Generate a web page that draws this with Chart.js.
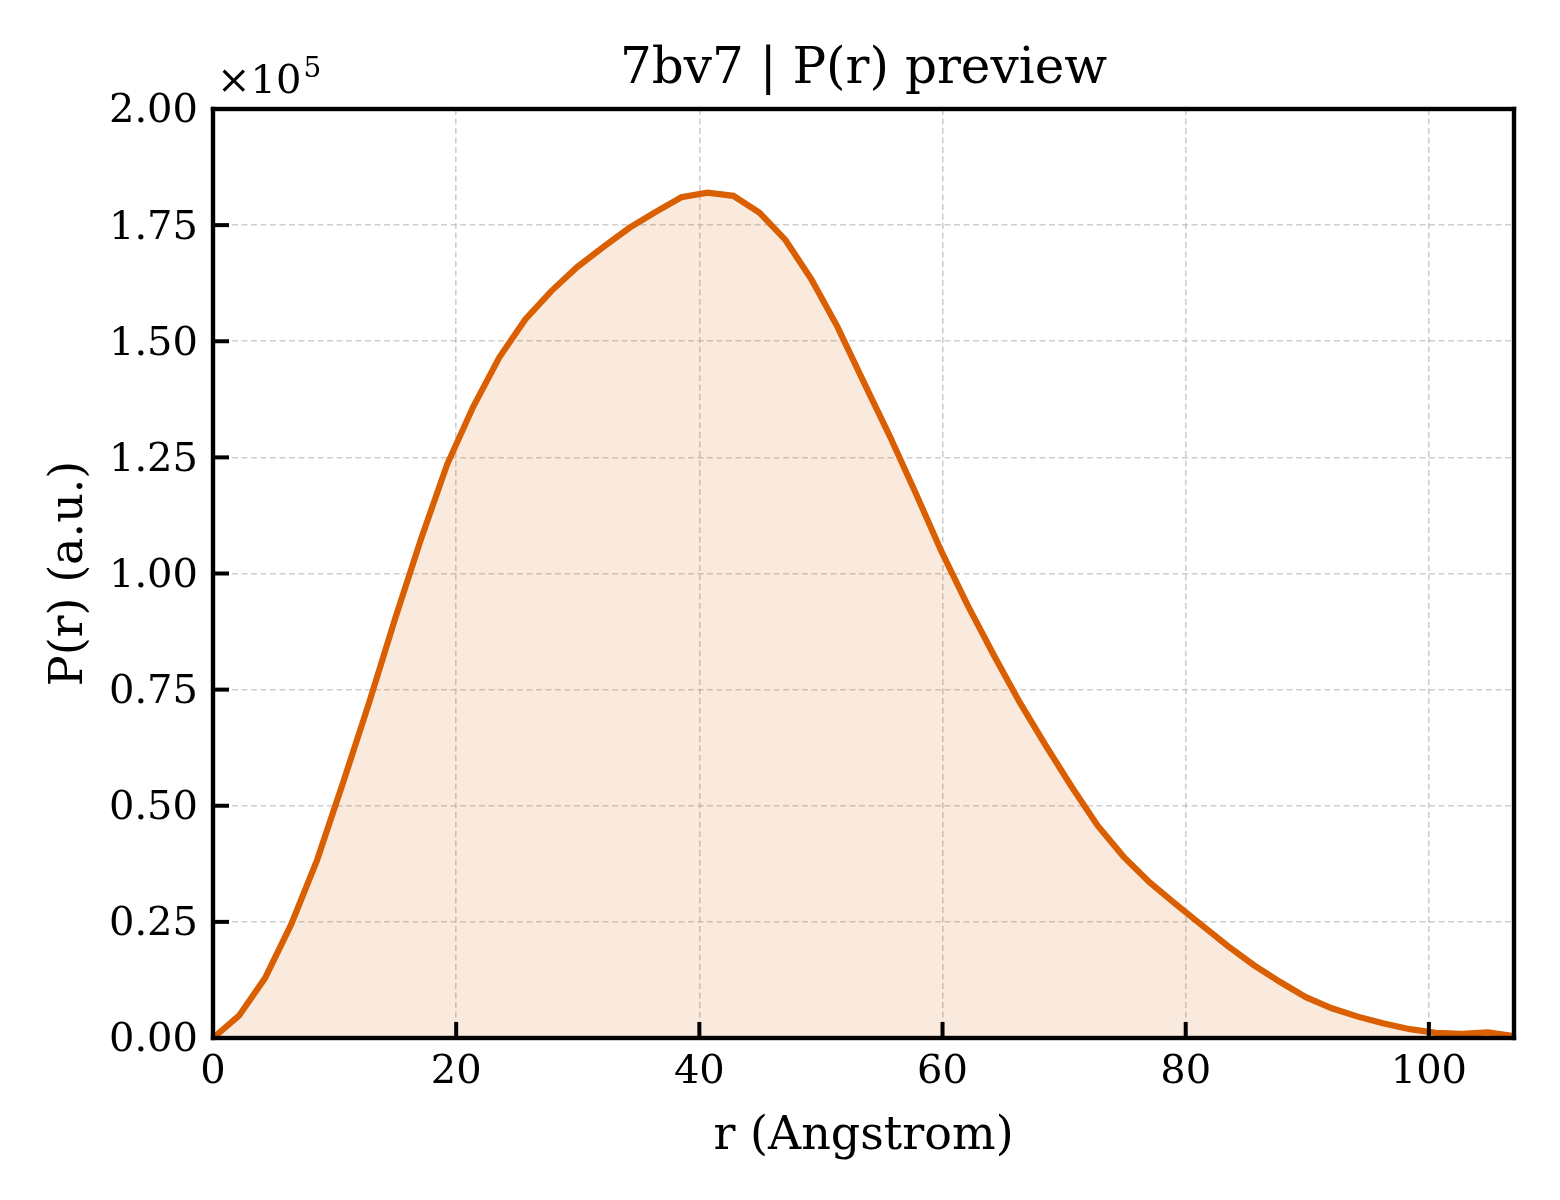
<!DOCTYPE html>
<html>
<head>
<meta charset="utf-8">
<script src="https://cdn.jsdelivr.net/npm/chart.js@4.4.1/dist/chart.umd.min.js"></script>
<style>
  html, body { margin: 0; padding: 0; background: #ffffff; }
  #wrap { width: 1560px; height: 1200px; }
</style>
</head>
<body>
<div id="wrap"><canvas id="c" width="1560" height="1200"></canvas></div>
<script>
// ---- data (r in Angstrom, P(r) in a.u.) ----
const rValues = [0, 2.14, 4.28, 6.42, 8.56, 10.70, 12.84, 14.98, 17.12, 19.26,
  21.40, 23.54, 25.68, 27.82, 29.96, 32.10, 34.24, 36.38, 38.52, 40.66,
  42.80, 44.94, 47.08, 49.22, 51.36, 53.50, 55.64, 57.78, 59.92, 62.06,
  64.20, 66.34, 68.48, 70.62, 72.76, 74.90, 77.04, 79.18, 81.32, 83.46,
  85.60, 87.74, 89.88, 92.02, 94.16, 96.30, 98.44, 100.58, 102.72, 104.86, 107.00];
const prValues = [0, 4800, 12900, 24400, 38300, 55000, 72200, 90300, 107500, 123500,
  135900, 146500, 154700, 160800, 166000, 170300, 174400, 177800, 181000, 182000,
  181300, 177700, 171800, 163300, 153100, 141300, 129700, 117400, 104700, 93200,
  82500, 72300, 63000, 54100, 45700, 39000, 33500, 28800, 24300, 19800,
  15700, 12100, 8800, 6400, 4600, 3100, 1900, 1100, 900, 1200, 400];
const xTicks = [0, 20, 40, 60, 80, 100];
const yTicks = [0, 25000, 50000, 75000, 100000, 125000, 150000, 175000, 200000];
const xMin = 0, xMax = 107, yMin = 0, yMax = 200000;

const FONT = 'DejaVu Serif';
const points = rValues.map((r, i) => ({ x: r, y: prValues[i] }));

const decorPlugin = {
  id: 'decor',
  afterDraw(chart) {
    const { ctx, chartArea: ca, scales } = chart;
    ctx.save();
    ctx.setLineDash([]);
    ctx.fillStyle = '#000';
    const tw = 4, tl = 16, fw = 4.4;
    // inward ticks
    xTicks.forEach(v => {
      const px = scales.x.getPixelForValue(v);
      ctx.fillRect(px - tw / 2, ca.bottom - tl, tw, tl);
    });
    yTicks.forEach(v => {
      const py = scales.y.getPixelForValue(v);
      ctx.fillRect(ca.left, py - tw / 2, tl, tw);
    });
    // frame
    ctx.fillRect(ca.left - fw / 2, ca.top - fw / 2, ca.right - ca.left + fw, fw);
    ctx.fillRect(ca.left - fw / 2, ca.bottom - fw / 2, ca.right - ca.left + fw, fw);
    ctx.fillRect(ca.left - fw / 2, ca.top - fw / 2, fw, ca.bottom - ca.top + fw);
    ctx.fillRect(ca.right - fw / 2, ca.top - fw / 2, fw, ca.bottom - ca.top + fw);
    // title
    ctx.font = '50px "' + FONT + '"';
    ctx.textAlign = 'center';
    ctx.textBaseline = 'alphabetic';
    ctx.fillText('7bv7 | P(r) preview', (ca.left + ca.right) / 2, 83);
    // offset text x10^5
    ctx.textAlign = 'left';
    ctx.font = '40px "' + FONT + '"';
    const base = '\u00d710';
    ctx.fillText(base, ca.left + 4, 93);
    const w = ctx.measureText(base).width;
    ctx.font = '28px "' + FONT + '"';
    ctx.fillText('5', ca.left + 4 + w + 2, 77);
    ctx.restore();
  }
};

new Chart(document.getElementById('c'), {
  type: 'line',
  data: {
    datasets: [{
      data: points,
      borderColor: '#d95f02',
      borderWidth: 6.2,
      backgroundColor: 'rgba(217,95,2,0.13)',
      fill: 'origin',
      pointRadius: 0,
      tension: 0
    }]
  },
  options: {
    responsive: false,
    animation: false,
    devicePixelRatio: 1,
    layout: { padding: { left: 0, right: 46, top: 109, bottom: 0 } },
    plugins: { legend: { display: false }, title: { display: false }, tooltip: { enabled: false } },
    scales: {
      x: {
        type: 'linear', min: xMin, max: xMax,
        afterBuildTicks: s => { s.ticks = xTicks.map(v => ({ value: v })); },
        afterFit: s => { s.height = 162; },
        grid: { color: 'rgba(180,180,180,0.65)', lineWidth: 1.6, drawTicks: false },
        border: { display: false, dash: [6, 3.5] },
        ticks: { font: { family: FONT, size: 40 }, color: '#000', padding: 11, maxRotation: 0, autoSkip: false,
                 callback: v => String(v) },
        title: { display: true, text: 'r (Angstrom)', color: '#000', font: { family: FONT, size: 46 },
                 padding: { top: 0, bottom: 35 } }
      },
      y: {
        type: 'linear', min: yMin, max: yMax,
        afterBuildTicks: s => { s.ticks = yTicks.map(v => ({ value: v })); },
        afterFit: s => { s.width = 213; },
        grid: { color: 'rgba(180,180,180,0.65)', lineWidth: 1.6, drawTicks: false },
        border: { display: false, dash: [6, 3.5] },
        ticks: { font: { family: FONT, size: 40 }, color: '#000', padding: 15, labelOffset: 3, autoSkip: false,
                 callback: v => (v / 1e5).toFixed(2) },
        title: { display: true, text: 'P(r) (a.u.)', color: '#000', font: { family: FONT, size: 46 },
                 padding: { top: 42, bottom: 0 } }
      }
    }
  },
  plugins: [decorPlugin]
});
</script>
</body>
</html>
